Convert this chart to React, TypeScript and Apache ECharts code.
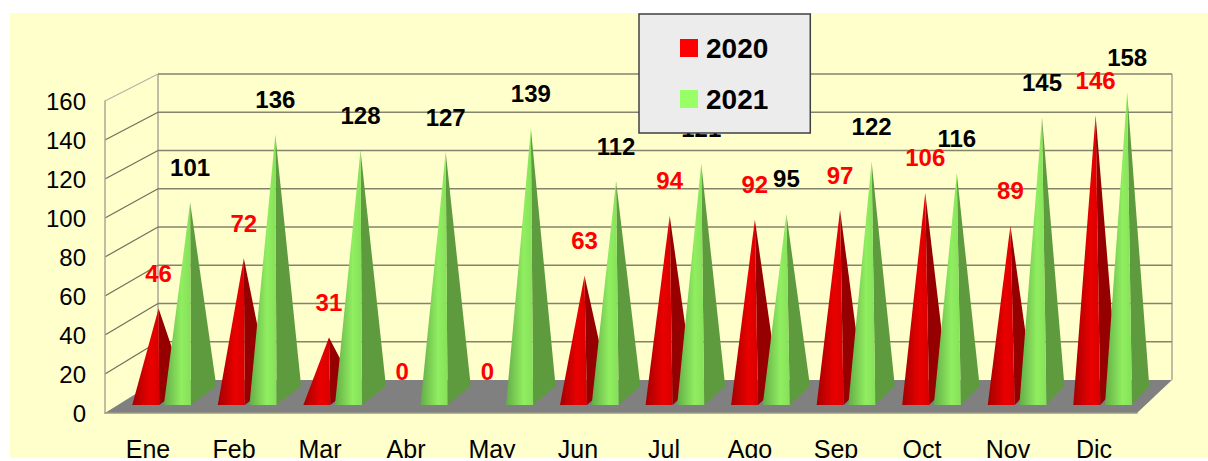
import React, { useEffect, useRef } from "react";
import * as echarts from "echarts";

const categories = ["Ene", "Feb", "Mar", "Abr", "May", "Jun", "Jul", "Ago", "Sep", "Oct", "Nov", "Dic"];
const values2020 = [46, 72, 31, 0, 0, 63, 94, 92, 97, 106, 89, 146];
const values2021 = [101, 136, 128, 127, 139, 112, 121, 95, 122, 116, 145, 158];
const yTicks = [0, 20, 40, 60, 80, 100, 120, 140, 160];

const FONT = '"Liberation Sans", Arial, sans-serif';
const DEPTH_X = 53;
const DEPTH_Y = 33;
const SHRINK_X = 18 / 1032;
const SHRINK_Y = 6 / 314;

function projector(params: any) {
  const cs = params.coordSys;
  const left = cs.x;
  const bottom = cs.y + cs.height;
  return {
    left,
    bottom,
    right: cs.x + cs.width,
    px: (xf: number, d: number) => left + (xf - left) * (1 - SHRINK_X * d) + DEPTH_X * d,
    py: (yf: number, d: number) => bottom - DEPTH_Y * d - (bottom - yf) * (1 - SHRINK_Y * d),
  };
}

function renderWall(params: any, api: any) {
  const p = projector(params);
  const v = api.value(0);
  const yf = api.coord([0, v])[1];
  const children: any[] = [];
  const isTop = v === 160;
  if (v === 0) {
    children.push({
      type: "polygon",
      shape: {
        points: [
          [p.left, p.bottom],
          [p.right, p.bottom],
          [p.px(p.right, 1), p.py(p.bottom, 1)],
          [p.px(p.left, 1), p.py(p.bottom, 1)],
        ],
      },
      style: { fill: "#808080" },
    });
    const topY = p.py(api.coord([0, 160])[1], 1);
    children.push(
      { type: "line", shape: { x1: p.px(p.left, 1), y1: p.py(p.bottom, 1), x2: p.px(p.left, 1), y2: topY }, style: { stroke: "#a8a898", lineWidth: 1.5 } },
      { type: "line", shape: { x1: p.px(p.right, 1), y1: p.py(p.bottom, 1), x2: p.px(p.right, 1), y2: topY }, style: { stroke: "#a8a898", lineWidth: 1.5 } }
    );
  } else {
    children.push(
      {
        type: "line",
        shape: { x1: p.left, y1: yf, x2: p.px(p.left, 1), y2: p.py(yf, 1) },
        style: { stroke: isTop ? "#b4b4a8" : "#6f6f5c", lineWidth: 1.2 },
      },
      {
        type: "line",
        shape: { x1: p.px(p.left, 1), y1: p.py(yf, 1), x2: p.px(p.right, 1), y2: p.py(yf, 1) },
        style: { stroke: "#84846c", lineWidth: 1.5 },
      }
    );
  }
  return { type: "group", children };
}

function pyramidRenderer(offsetL: number, width: number, frontStops: string[], sideColor: string, labelColor: string) {
  return (params: any, api: any) => {
    const p = projector(params);
    const i = api.value(0);
    const v = api.value(1);
    const c = api.coord([i, v]);
    const xL = c[0] + offsetL;
    const xR = xL + width;
    const xC = xL + width / 2;
    const dxF = 0.3;
    const dxB = 0.79;
    const dyF = 0.24;
    const dyB = 0.82;
    const fl = [p.px(xL, dxF), p.py(p.bottom, dyF)];
    const fr = [p.px(xR, dxF), p.py(p.bottom, dyF)];
    const br = [p.px(xR, dxB), p.py(p.bottom, dyB)];
    const apex = [p.px(xC, 0.545), p.py(c[1], 0.47)];
    const children: any[] = [];
    if (v > 0) {
      children.push(
        {
          type: "polygon",
          shape: { points: [fr, br, apex] },
          style: { fill: sideColor },
        },
        {
          type: "polygon",
          shape: { points: [fl, fr, apex] },
          style: {
            fill: new echarts.graphic.LinearGradient(0, 0, 1, 0, [
              { offset: 0, color: frontStops[0] },
              { offset: 0.65, color: frontStops[1] },
              { offset: 1, color: frontStops[2] },
            ]),
          },
        }
      );
    }
    children.push({
      type: "text",
      style: {
        text: String(v),
        x: v > 0 ? apex[0] : apex[0] - 12,
        y: v > 0 ? apex[1] - 35 : apex[1] - 26,
        textAlign: "center",
        textVerticalAlign: "middle",
        fill: labelColor,
        fontFamily: FONT,
        fontSize: 24,
        fontWeight: "bold",
      },
    });
    return { type: "group", children };
  };
}

export default function App() {
  const ref = useRef<HTMLDivElement>(null);
  useEffect(() => {
    const chart = echarts.init(ref.current!, null, { renderer: "svg" });
    chart.setOption({
      animation: false,
      backgroundColor: "#ffffff",
      graphic: [
        { type: "rect", z: -10, silent: true, shape: { x: 10, y: 13, width: 1198, height: 445 }, style: { fill: "#FFFFCC" } },
        { type: "rect", z: 100, silent: true, shape: { x: 0, y: 458, width: 1208, height: 3 }, style: { fill: "#ffffff" } },
      ],
      grid: { left: 105, top: 101, width: 1032, height: 314, containLabel: false },
      legend: {
        data: ["2020", "2021"],
        orient: "vertical",
        left: 639,
        top: 14,
        z: 20,
        padding: [20, 42, 20, 41],
        backgroundColor: "#ECECEC",
        borderColor: "#404040",
        borderWidth: 1.5,
        itemWidth: 18,
        itemHeight: 18,
        itemGap: 23,
        icon: "rect",
        selectedMode: false,
        textStyle: { fontSize: 28, fontWeight: "bold", fontFamily: FONT, color: "#000", padding: [0, 3, 0, 3] },
      },
      xAxis: {
        type: "category",
        data: categories,
        z: 5,
        axisTick: { show: false },
        axisLine: { show: true, lineStyle: { color: "#9a9a88", width: 1.5 } },
        axisLabel: { margin: 23, fontSize: 25, color: "#000", fontFamily: FONT, interval: 0 },
      },
      yAxis: {
        type: "value",
        min: 0,
        max: 160,
        interval: 20,
        z: 5,
        splitLine: { show: false },
        axisTick: { show: false },
        axisLine: { show: true, lineStyle: { color: "#a8a898", width: 1.5 } },
        axisLabel: { margin: 19, fontSize: 24, color: "#000", fontFamily: FONT, padding: [3, 0, 0, 0] },
      },
      series: [
        {
          type: "custom",
          z: 1,
          silent: true,
          data: yTicks.map((t) => [t]),
          encode: { y: 0 },
          renderItem: renderWall,
        },
        {
          name: "2020",
          type: "custom",
          z: 2,
          silent: true,
          itemStyle: { color: "#FF0000" },
          data: values2020.map((v, i) => [i, v]),
          encode: { x: 0, y: 1 },
          renderItem: pyramidRenderer(-31.6, 27.1, ["#A40000", "#EA0000", "#D80000"], "#960000", "#FF0000"),
        },
        {
          name: "2021",
          type: "custom",
          z: 3,
          silent: true,
          itemStyle: { color: "#99FF66" },
          data: values2021.map((v, i) => [i, v]),
          encode: { x: 0, y: 1 },
          renderItem: pyramidRenderer(0.2, 27.2, ["#64AC48", "#90EE60", "#86E05A"], "#5E9B3E", "#000000"),
        },
      ],
    });
    return () => chart.dispose();
  }, []);
  return <div ref={ref} style={{ position: "absolute", left: 0, top: 0, width: 1208, height: 461 }} />;
}
